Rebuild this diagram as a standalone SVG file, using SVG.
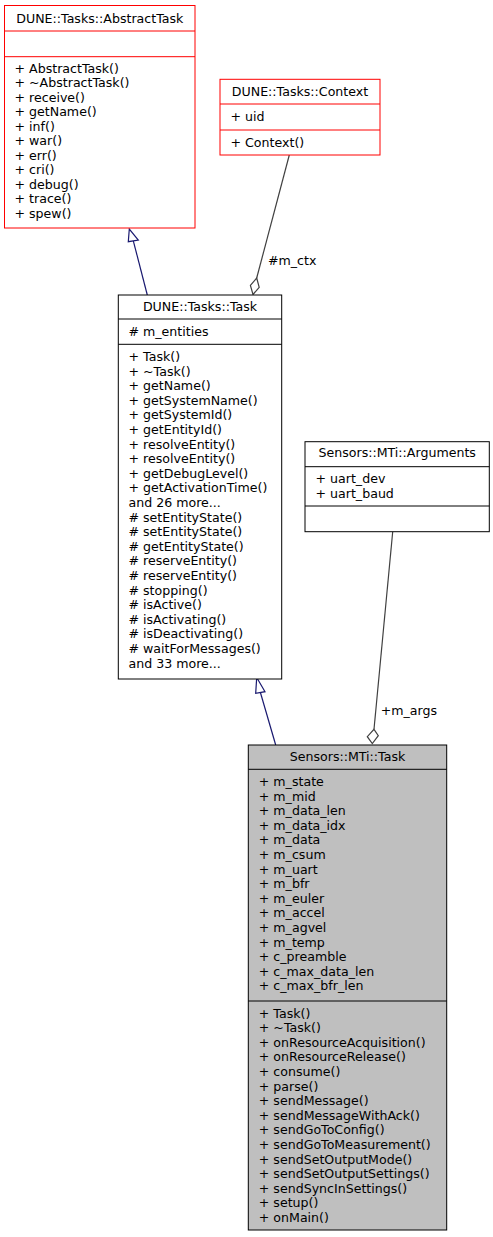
<svg xmlns="http://www.w3.org/2000/svg" width="493" height="1237" viewBox="0 0 493 1237">
<style>
text{font-family:"DejaVu Sans","Liberation Sans",sans-serif;font-size:12.6px;fill:#000}
.t{text-anchor:middle}
.red{fill:#fff;stroke:#ff0000;stroke-width:1}
.blk{fill:#fff;stroke:#000;stroke-width:1}
.gry{fill:#bfbfbf;stroke:#000;stroke-width:1}
.sr{stroke:#ff0000;stroke-width:1}
.sb{stroke:#000;stroke-width:1}
.inh{fill:none;stroke:#191970;stroke-width:1.2}
.agg{fill:none;stroke:#404040;stroke-width:1.2}
.tri{fill:#fff;stroke:#191970;stroke-width:1.2}
.dia{fill:#fff;stroke:#404040;stroke-width:1.2}
</style>
<rect width="493" height="1237" fill="#fff"/>
<g id="connectors">
<path class="inh" d="M147.3,295 L133.3,240.8"/>
<polygon class="tri" points="129.3,229 128.3,241.7 138.3,240"/>
<path class="inh" d="M275.7,745 L260.4,692.5"/>
<polygon class="tri" points="256.7,677.5 255.7,693.3 265,691.7"/>
<path class="agg" d="M289.3,155 L256.7,278"/>
<polygon class="dia" points="256.7,278 259.2,287.3 253,294.5 250.4,285.3"/>
<text x="268" y="265">#m_ctx</text>
<path class="agg" d="M392.7,531.7 L374,729.3"/>
<polygon class="dia" points="374,729.3 378.3,735.7 372.3,743.5 367.3,736.7"/>
<text x="380.7" y="715">+m_args</text>
</g>
<g id="AbstractTask">
<rect class="red" x="4.5" y="5.5" width="190.5" height="222.5"/>
<line class="sr" x1="4.5" y1="31" x2="195" y2="31"/>
<line class="sr" x1="4.5" y1="56.7" x2="195" y2="56.7"/>
<text class="t" x="99.8" y="22.5">DUNE::Tasks::AbstractTask</text>
<text x="14.5" y="72.5">+ AbstractTask()</text>
<text x="14.5" y="87">+ ~AbstractTask()</text>
<text x="14.5" y="101.5">+ receive()</text>
<text x="14.5" y="116">+ getName()</text>
<text x="14.5" y="130.5">+ inf()</text>
<text x="14.5" y="145">+ war()</text>
<text x="14.5" y="159.5">+ err()</text>
<text x="14.5" y="174">+ cri()</text>
<text x="14.5" y="188.5">+ debug()</text>
<text x="14.5" y="203">+ trace()</text>
<text x="14.5" y="217.5">+ spew()</text>
</g>
<g id="Context">
<rect class="red" x="220" y="79.3" width="160" height="75.7"/>
<line class="sr" x1="220" y1="104" x2="380" y2="104"/>
<line class="sr" x1="220" y1="130" x2="380" y2="130"/>
<text class="t" x="300" y="95.5">DUNE::Tasks::Context</text>
<text x="230.5" y="121">+ uid</text>
<text x="230.5" y="146.5">+ Context()</text>
</g>
<g id="Task">
<rect class="blk" x="118.3" y="295" width="163.4" height="384"/>
<line class="sb" x1="118.3" y1="319" x2="281.7" y2="319"/>
<line class="sb" x1="118.3" y1="344.3" x2="281.7" y2="344.3"/>
<text class="t" x="200" y="310.7">DUNE::Tasks::Task</text>
<text x="128.5" y="335.7"># m_entities</text>
<text x="128.5" y="361">+ Task()</text>
<text x="128.5" y="375.6">+ ~Task()</text>
<text x="128.5" y="390.2">+ getName()</text>
<text x="128.5" y="404.8">+ getSystemName()</text>
<text x="128.5" y="419.4">+ getSystemId()</text>
<text x="128.5" y="434">+ getEntityId()</text>
<text x="128.5" y="448.6">+ resolveEntity()</text>
<text x="128.5" y="463.2">+ resolveEntity()</text>
<text x="128.5" y="477.8">+ getDebugLevel()</text>
<text x="128.5" y="492.4">+ getActivationTime()</text>
<text x="128.5" y="507">and 26 more...</text>
<text x="128.5" y="521.6"># setEntityState()</text>
<text x="128.5" y="536.2"># setEntityState()</text>
<text x="128.5" y="550.8"># getEntityState()</text>
<text x="128.5" y="565.4"># reserveEntity()</text>
<text x="128.5" y="580"># reserveEntity()</text>
<text x="128.5" y="594.6"># stopping()</text>
<text x="128.5" y="609.2"># isActive()</text>
<text x="128.5" y="623.8"># isActivating()</text>
<text x="128.5" y="638.4"># isDeactivating()</text>
<text x="128.5" y="653"># waitForMessages()</text>
<text x="128.5" y="667.6">and 33 more...</text>
</g>
<g id="Arguments">
<rect class="blk" x="305" y="441.7" width="184.3" height="90"/>
<line class="sb" x1="305" y1="466.7" x2="489.3" y2="466.7"/>
<line class="sb" x1="305" y1="506" x2="489.3" y2="506"/>
<text class="t" x="397.2" y="457">Sensors::MTi::Arguments</text>
<text x="315.5" y="483">+ uart_dev</text>
<text x="315.5" y="497.6">+ uart_baud</text>
</g>
<g id="MTiTask">
<rect class="gry" x="248.3" y="745" width="198.4" height="485"/>
<line class="sb" x1="248.3" y1="769.3" x2="446.7" y2="769.3"/>
<line class="sb" x1="248.3" y1="1001" x2="446.7" y2="1001"/>
<text class="t" x="347.5" y="760.5">Sensors::MTi::Task</text>
<text x="258.8" y="786">+ m_state</text>
<text x="258.8" y="800.6">+ m_mid</text>
<text x="258.8" y="815.2">+ m_data_len</text>
<text x="258.8" y="829.8">+ m_data_idx</text>
<text x="258.8" y="844.4">+ m_data</text>
<text x="258.8" y="859">+ m_csum</text>
<text x="258.8" y="873.6">+ m_uart</text>
<text x="258.8" y="888.2">+ m_bfr</text>
<text x="258.8" y="902.8">+ m_euler</text>
<text x="258.8" y="917.4">+ m_accel</text>
<text x="258.8" y="932">+ m_agvel</text>
<text x="258.8" y="946.6">+ m_temp</text>
<text x="258.8" y="961.2">+ c_preamble</text>
<text x="258.8" y="975.8">+ c_max_data_len</text>
<text x="258.8" y="990.4">+ c_max_bfr_len</text>
<text x="258.8" y="1017.5">+ Task()</text>
<text x="258.8" y="1032.1">+ ~Task()</text>
<text x="258.8" y="1046.7">+ onResourceAcquisition()</text>
<text x="258.8" y="1061.3">+ onResourceRelease()</text>
<text x="258.8" y="1075.9">+ consume()</text>
<text x="258.8" y="1090.5">+ parse()</text>
<text x="258.8" y="1105.1">+ sendMessage()</text>
<text x="258.8" y="1119.7">+ sendMessageWithAck()</text>
<text x="258.8" y="1134.3">+ sendGoToConfig()</text>
<text x="258.8" y="1148.9">+ sendGoToMeasurement()</text>
<text x="258.8" y="1163.5">+ sendSetOutputMode()</text>
<text x="258.8" y="1178.1">+ sendSetOutputSettings()</text>
<text x="258.8" y="1192.7">+ sendSyncInSettings()</text>
<text x="258.8" y="1207.3">+ setup()</text>
<text x="258.8" y="1221.9">+ onMain()</text>
</g>
</svg>
